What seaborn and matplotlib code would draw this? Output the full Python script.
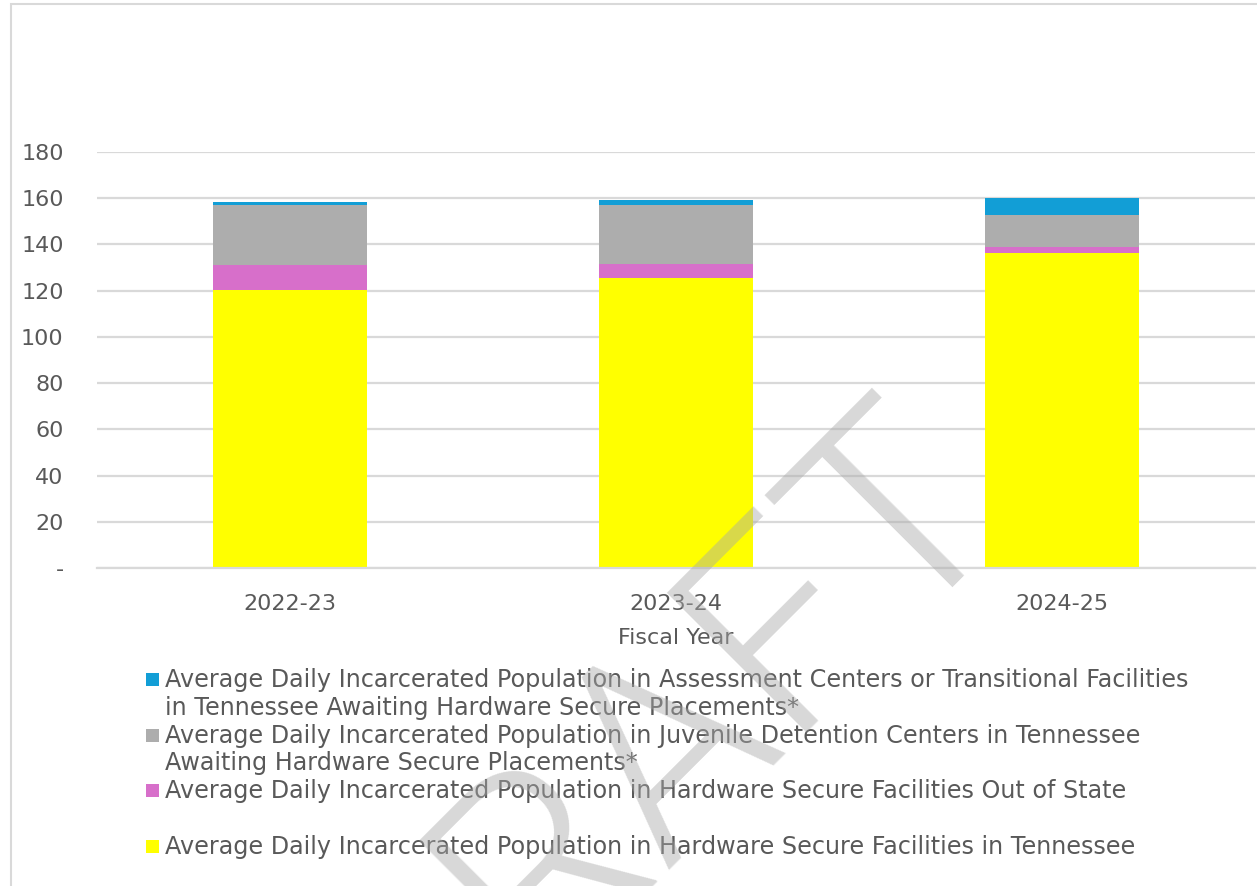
import matplotlib
matplotlib.use("Agg")
import matplotlib.pyplot as plt
import matplotlib.patches as mpatches
from matplotlib.ticker import FuncFormatter
import numpy as np
import pandas as pd
import seaborn as sns

# data
fiscal_years = ["2022-23", "2023-24", "2024-25"]
in_tennessee = [120.3, 125.6, 136.4]
out_of_state = [10.9, 6.1, 2.3]
detention_centers = [25.8, 25.4, 14.1]
assessment_centers = [1.4, 2.1, 7.3]

series_labels = [
    "Average Daily Incarcerated Population in Hardware Secure Facilities in Tennessee",
    "Average Daily Incarcerated Population in Hardware Secure Facilities Out of State",
    "Average Daily Incarcerated Population in Juvenile Detention Centers in Tennessee\n"
    "Awaiting Hardware Secure Placements*",
    "Average Daily Incarcerated Population in Assessment Centers or Transitional Facilities\n"
    "in Tennessee Awaiting Hardware Secure Placements*",
]
series_colors = ["#FFFF00", "#D76FCA", "#ADADAD", "#129ED6"]
y_ticks = [0, 20, 40, 60, 80, 100, 120, 140, 160, 180]

TEXT = "#595959"
GRID = "#D9D9D9"

sns.set_style("white")
plt.rcParams["font.family"] = ["DejaVu Sans"]

df = pd.DataFrame({
    "year": fiscal_years,
    "tn": in_tennessee,
    "oos": out_of_state,
    "det": detention_centers,
    "ac": assessment_centers,
})
layers = ["tn", "oos", "det", "ac"]

fig = plt.figure(figsize=(12.57, 8.86), dpi=100)
ax = fig.add_axes([97 / 1257, 1 - 568 / 886, (1255 - 97) / 1257, (568 - 152) / 886])

bottom = np.zeros(len(df))
for col, color in zip(layers, series_colors):
    sns.barplot(data=df, x="year", y=col, color=color, width=0.4,
                bottom=bottom, errorbar=None, saturation=1, ax=ax,
                linewidth=0, zorder=3)
    bottom = bottom + df[col].to_numpy()

ax.set_ylim(0, 180)
ax.set_xlim(-0.5, 2.5)
ax.set_yticks(y_ticks)
ax.yaxis.set_major_formatter(FuncFormatter(lambda v, p: "-" if v == 0 else f"{v:.0f}"))
ax.grid(axis="y", color=GRID, linewidth=1.6, zorder=0)
ax.set_axisbelow(True)
for side in ["left", "right", "top"]:
    ax.spines[side].set_visible(False)
ax.spines["bottom"].set_color(GRID)
ax.spines["bottom"].set_linewidth(1.6)
ax.spines["bottom"].set_zorder(4)

ax.set_xticks([-0.5, 0.5, 1.5, 2.5], minor=True)
ax.tick_params(axis="x", which="minor", direction="inout", length=12,
               width=1.2, color=GRID)
ax.tick_params(axis="x", which="major", length=0, pad=19, labelsize=16,
               labelcolor=TEXT)
ax.tick_params(axis="y", length=0, pad=24, labelsize=16, labelcolor=TEXT)
ax.set_ylabel("")
ax.set_xlabel("Fiscal Year", fontsize=16, color=TEXT, labelpad=10)

# legend drawn line by line, Excel style
legend_order = [3, 2, 1, 0]
pitch = 27.8
y_px = 680
for i in legend_order:
    lines = series_labels[i].split("\n")
    fig.patches.append(mpatches.Rectangle(
        (146 / 1257, 1 - (y_px + 6) / 886), 13 / 1257, 13 / 886,
        transform=fig.transFigure, facecolor=series_colors[i],
        edgecolor="none"))
    for ln in lines:
        fig.text(165 / 1257, 1 - y_px / 886, ln, fontsize=17.2, color=TEXT,
                 ha="left", va="center")
        y_px += pitch
    if i == 1:
        y_px += pitch

# figure border
fig.patches.append(mpatches.Rectangle(
    (11 / 1257, -0.1), 1.2, 1 - 4 / 886 + 0.1, transform=fig.transFigure,
    fill=False, edgecolor=GRID, linewidth=1.5))

# watermark
fig.text(655 / 1257, 1 - 752 / 886, "DRAFT", fontsize=200, rotation=45,
         family=["Roboto", "DejaVu Sans"], fontweight=300,
         color="#A8A8A8", alpha=0.45, ha="center", va="center", zorder=10)

fig.savefig("out.png", dpi=100)
